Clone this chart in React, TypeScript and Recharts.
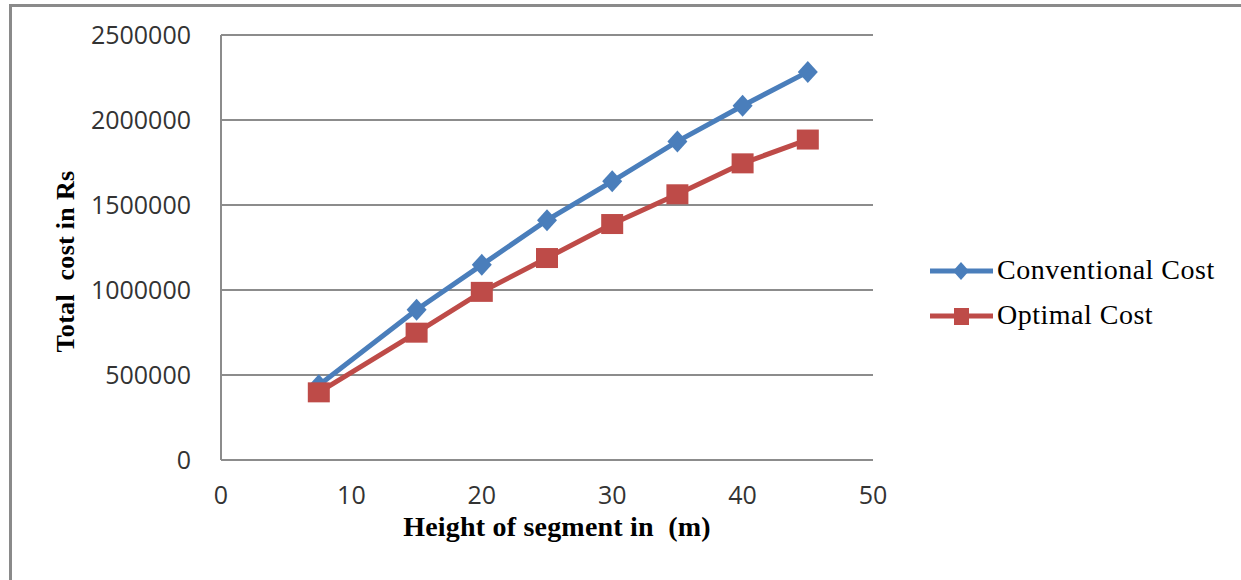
import { LineChart, Line, XAxis, YAxis, CartesianGrid, Label } from 'recharts';

const heights = [7.5, 15, 20, 25, 30, 35, 40, 45];
const conventionalCost = [440000, 884000, 1148000, 1411000, 1639000, 1874000, 2084000, 2283000];
const optimalCost = [398000, 749000, 989000, 1188000, 1388000, 1563000, 1745000, 1885000];
const xTicks = [0, 10, 20, 30, 40, 50];
const yTicks = [0, 500000, 1000000, 1500000, 2000000, 2500000];
const seriesNames = ['Conventional Cost', 'Optimal Cost'];

const data = heights.map((h, i) => ({
  height: h,
  conventional: conventionalCost[i],
  optimal: optimalCost[i],
}));

const BLUE = '#4A7EBB';
const RED = '#BE4B48';
const GRID = '#8c8c8c';
const tickStyle = { fill: '#333333', fontSize: 25, fontFamily: '"Open Sans", sans-serif' };
const serif = '"Liberation Serif", serif';

function Diamond({ cx, cy }: any) {
  if (cx == null || cy == null) return null;
  return <path d={`M${cx},${cy - 11} L${cx + 10},${cy} L${cx},${cy + 11} L${cx - 10},${cy} Z`} fill={BLUE} />;
}

function Square({ cx, cy }: any) {
  if (cx == null || cy == null) return null;
  return <rect x={cx - 11} y={cy - 10} width={22} height={20} fill={RED} />;
}

function LegendBox() {
  return (
    <svg width={310} height={100} style={{ position: 'absolute', left: 925, top: 248 }}>
      {seriesNames.map((name, i) => {
        const y = 23 + i * 45;
        const color = i === 0 ? BLUE : RED;
        return (
          <g key={name}>
            <line x1={5} x2={68} y1={y} y2={y} stroke={color} strokeWidth={5} />
            {i === 0 ? (
              <path d={`M36,${y - 9} L44,${y} L36,${y + 9} L28,${y} Z`} fill={color} />
            ) : (
              <rect x={29} y={y - 8} width={15} height={17} fill={color} />
            )}
            <text x={72} y={y + 8} fontSize={28} letterSpacing={0.5} fontFamily={serif} fill="#000">
              {name}
            </text>
          </g>
        );
      })}
    </svg>
  );
}

export default function App() {
  return (
    <div style={{ position: 'absolute', left: 0, top: 0, width: 1241, height: 580, background: '#fff' }}>
      <div
        style={{
          position: 'absolute',
          left: 9,
          top: 4,
          width: 1240,
          height: 580,
          borderLeft: '3px solid #8a8a8a',
          borderTop: '3px solid #8a8a8a',
        }}
      />
      <div style={{ position: 'absolute', left: 0, top: 0 }}>
        <LineChart width={1241} height={580} data={data} margin={{ top: 35, right: 368, bottom: 0, left: 0 }}>
          <CartesianGrid horizontal vertical={false} stroke={GRID} strokeWidth={2} />
          <XAxis
            dataKey="height"
            type="number"
            domain={[0, 50]}
            ticks={xTicks}
            height={120}
            tick={tickStyle}
            tickLine={false}
            tickSize={0}
            tickMargin={26}
            axisLine={{ stroke: GRID, strokeWidth: 2 }}
          >
            <Label
              content={({ viewBox }: any) => (
                <text
                  x={viewBox.x + viewBox.width / 2 + 10}
                  y={viewBox.y + 76}
                  textAnchor="middle"
                  fontSize={28}
                  letterSpacing={0.2}
                  fontWeight="bold"
                  fontFamily={serif}
                  fill="#000"
                  style={{ whiteSpace: 'pre' }}
                >
                  Height of segment in  (m)
                </text>
              )}
            />
          </XAxis>
          <YAxis
            type="number"
            domain={[0, 2500000]}
            ticks={yTicks}
            width={221}
            tick={tickStyle}
            tickLine={false}
            tickSize={0}
            tickMargin={30}
            axisLine={{ stroke: GRID, strokeWidth: 2 }}
          >
            <Label
              content={({ viewBox }: any) => (
                <text
                  x={74}
                  y={viewBox.y + viewBox.height / 2 + 14}
                  transform={`rotate(-90, 74, ${viewBox.y + viewBox.height / 2 + 14})`}
                  textAnchor="middle"
                  fontSize={26}
                  letterSpacing={0.3}
                  fontWeight="bold"
                  fontFamily={serif}
                  fill="#000"
                  style={{ whiteSpace: 'pre' }}
                >
                  Total  cost in Rs
                </text>
              )}
            />
          </YAxis>
          <Line
            name={seriesNames[0]}
            dataKey="conventional"
            stroke={BLUE}
            strokeWidth={5}
            dot={<Diamond />}
            activeDot={false}
            isAnimationActive={false}
          />
          <Line
            name={seriesNames[1]}
            dataKey="optimal"
            stroke={RED}
            strokeWidth={5}
            dot={<Square />}
            activeDot={false}
            isAnimationActive={false}
          />
        </LineChart>
      </div>
      <LegendBox />
    </div>
  );
}
